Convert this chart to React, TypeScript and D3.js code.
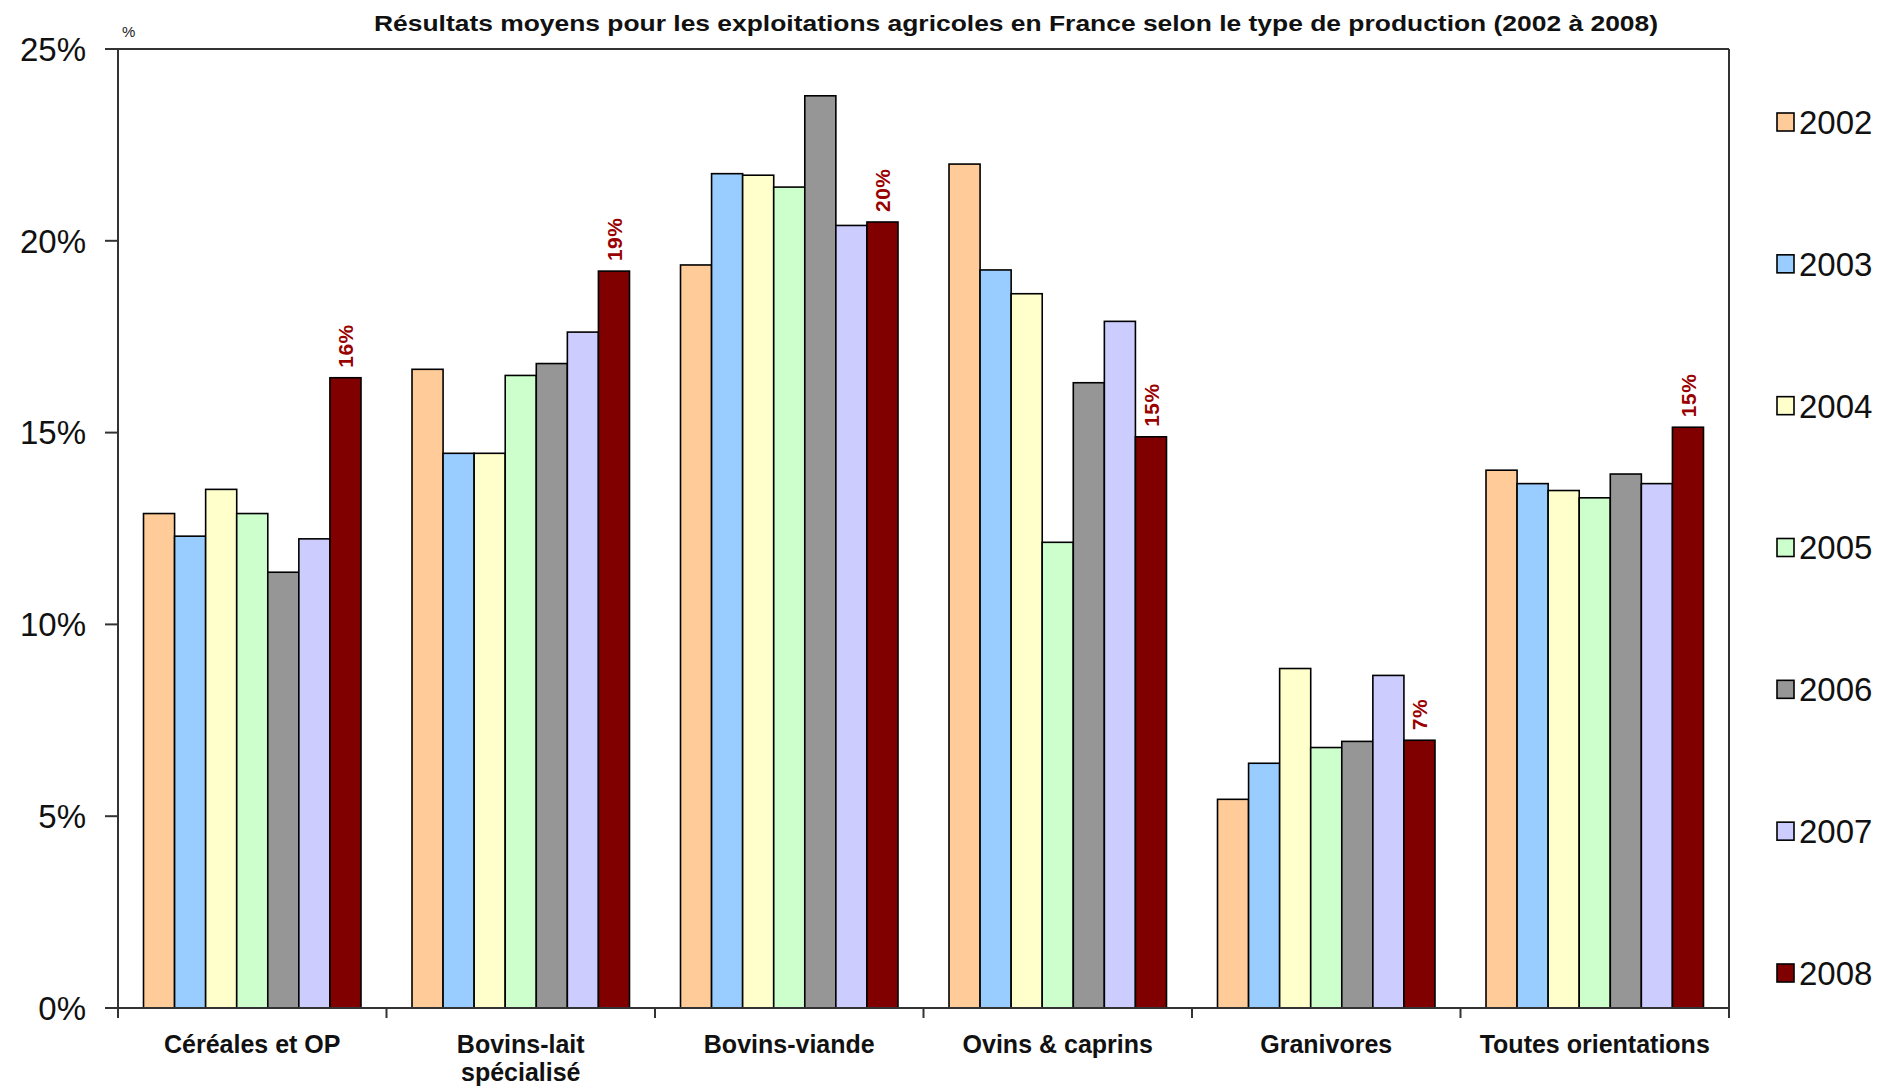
import React from 'react';
import * as d3 from 'd3';

// Chart data
const categories = [
  ['Céréales et OP'],
  ['Bovins-lait', 'spécialisé'],
  ['Bovins-viande'],
  ['Ovins & caprins'],
  ['Granivores'],
  ['Toutes orientations'],
];
const years = ['2002', '2003', '2004', '2005', '2006', '2007', '2008'];
const yearColors = ['#FFCC99', '#99CCFF', '#FFFFCC', '#CCFFCC', '#969696', '#CCCCFF', '#800000'];

// values[category][year], in %
const cereales = [12.89, 12.3, 13.52, 12.89, 11.36, 12.23, 16.43];
const bovinsLait = [16.65, 14.46, 14.46, 16.49, 16.8, 17.62, 19.21];
const bovinsViande = [19.37, 21.75, 21.71, 21.4, 23.78, 20.4, 20.49];
const ovinsCaprins = [22.0, 19.24, 18.62, 12.14, 16.3, 17.9, 14.89];
const granivores = [5.44, 6.38, 8.85, 6.79, 6.95, 8.67, 6.98];
const toutes = [14.02, 13.67, 13.49, 13.3, 13.92, 13.67, 15.14];
const values = [cereales, bovinsLait, bovinsViande, ovinsCaprins, granivores, toutes];

const labels2008 = ['16%', '19%', '20%', '15%', '7%', '15%'];
const yTicks = [0, 5, 10, 15, 20, 25];

const W = 1880;
const H = 1088;
const plot = { left: 118, right: 1729, top: 49, bottom: 1008 };
const font = '"Liberation Sans", Arial, sans-serif';

const App = () => {
  const catKeys = categories.map(c => c.join(' '));
  const x0 = d3.scaleBand<string>().domain(catKeys).range([plot.left, plot.right]).paddingInner(0.19).paddingOuter(0.095);
  const x1 = d3.scaleBand<string>().domain(years).range([0, x0.bandwidth()]);
  const y = d3.scaleLinear().domain([0, 25]).range([plot.bottom, plot.top]);
  const step = x0.step();

  const legendY = d3.scalePoint<string>().domain(years).range([122, 973]);

  return (
    <svg width={W} height={H} style={{ position: 'absolute', left: 0, top: 0, background: '#fff' }} fontFamily={font}>
      <rect x={0} y={0} width={W} height={H} fill="#fff" />
      {/* title */}
      <text x={1016} y={31} textAnchor="middle" fontSize={22} fontWeight="bold" fill="#111" textLength={1284} lengthAdjust="spacingAndGlyphs">
        Résultats moyens pour les exploitations agricoles en France selon le type de production (2002 à 2008)
      </text>
      <text x={122} y={37} fontSize={15} fill="#222">%</text>

      {/* bars */}
      {values.map((row, ci) => (
        <g key={catKeys[ci]} transform={`translate(${x0(catKeys[ci])},0)`}>
          {row.map((v, yi) => (
            <rect
              key={years[yi]}
              x={x1(years[yi])}
              y={y(v)}
              width={x1.bandwidth()}
              height={y(0) - y(v)}
              fill={yearColors[yi]}
              stroke="#000"
              strokeWidth={1.6}
            />
          ))}
          <text
            transform={`translate(${(x1('2008') as number) + x1.bandwidth() / 2 + 8},${y(row[6]) - 10}) rotate(-90)`}
            fontSize={21}
            fontWeight="bold"
            fill="#990000"
            letterSpacing={0.5}
          >
            {labels2008[ci]}
          </text>
        </g>
      ))}

      {/* frame */}
      <line x1={plot.left} x2={plot.right} y1={plot.top} y2={plot.top} stroke="#333" strokeWidth={2} />
      <line x1={plot.right} x2={plot.right} y1={plot.top} y2={plot.bottom} stroke="#333" strokeWidth={2} />
      <line x1={plot.left} x2={plot.left} y1={plot.top} y2={plot.bottom} stroke="#333" strokeWidth={2} />
      <line x1={plot.left - 13} x2={plot.right} y1={plot.bottom} y2={plot.bottom} stroke="#333" strokeWidth={2} />

      {/* y axis */}
      {yTicks.map(t => (
        <g key={t}>
          <line x1={plot.left - 13} x2={plot.left} y1={y(t)} y2={y(t)} stroke="#333" strokeWidth={2} />
          <text x={86} y={y(t)} dy="0.36em" textAnchor="end" fontSize={33} fill="#111">
            {t}%
          </text>
        </g>
      ))}

      {/* x axis ticks and labels */}
      {d3.range(catKeys.length + 1).map(i => (
        <line key={i} x1={plot.left + i * step} x2={plot.left + i * step} y1={plot.bottom} y2={plot.bottom + 10} stroke="#333" strokeWidth={2} />
      ))}
      {categories.map((lines, ci) => (
        <text key={catKeys[ci]} x={(x0(catKeys[ci]) as number) + x0.bandwidth() / 2} y={1053} textAnchor="middle" fontSize={25} fontWeight="bold" fill="#111">
          {lines.map((l, li) => (
            <tspan key={l} x={(x0(catKeys[ci]) as number) + x0.bandwidth() / 2} dy={li === 0 ? 0 : 28}>
              {l}
            </tspan>
          ))}
        </text>
      ))}

      {/* legend */}
      {years.map((yr, i) => (
        <g key={yr} transform={`translate(1777,${legendY(yr)})`}>
          <rect x={0} y={-9} width={17} height={18} fill={yearColors[i]} stroke="#000" strokeWidth={1.6} />
          <text x={22} y={0} dy="0.36em" fontSize={33} fill="#111">
            {yr}
          </text>
        </g>
      ))}
    </svg>
  );
};

export default App;
